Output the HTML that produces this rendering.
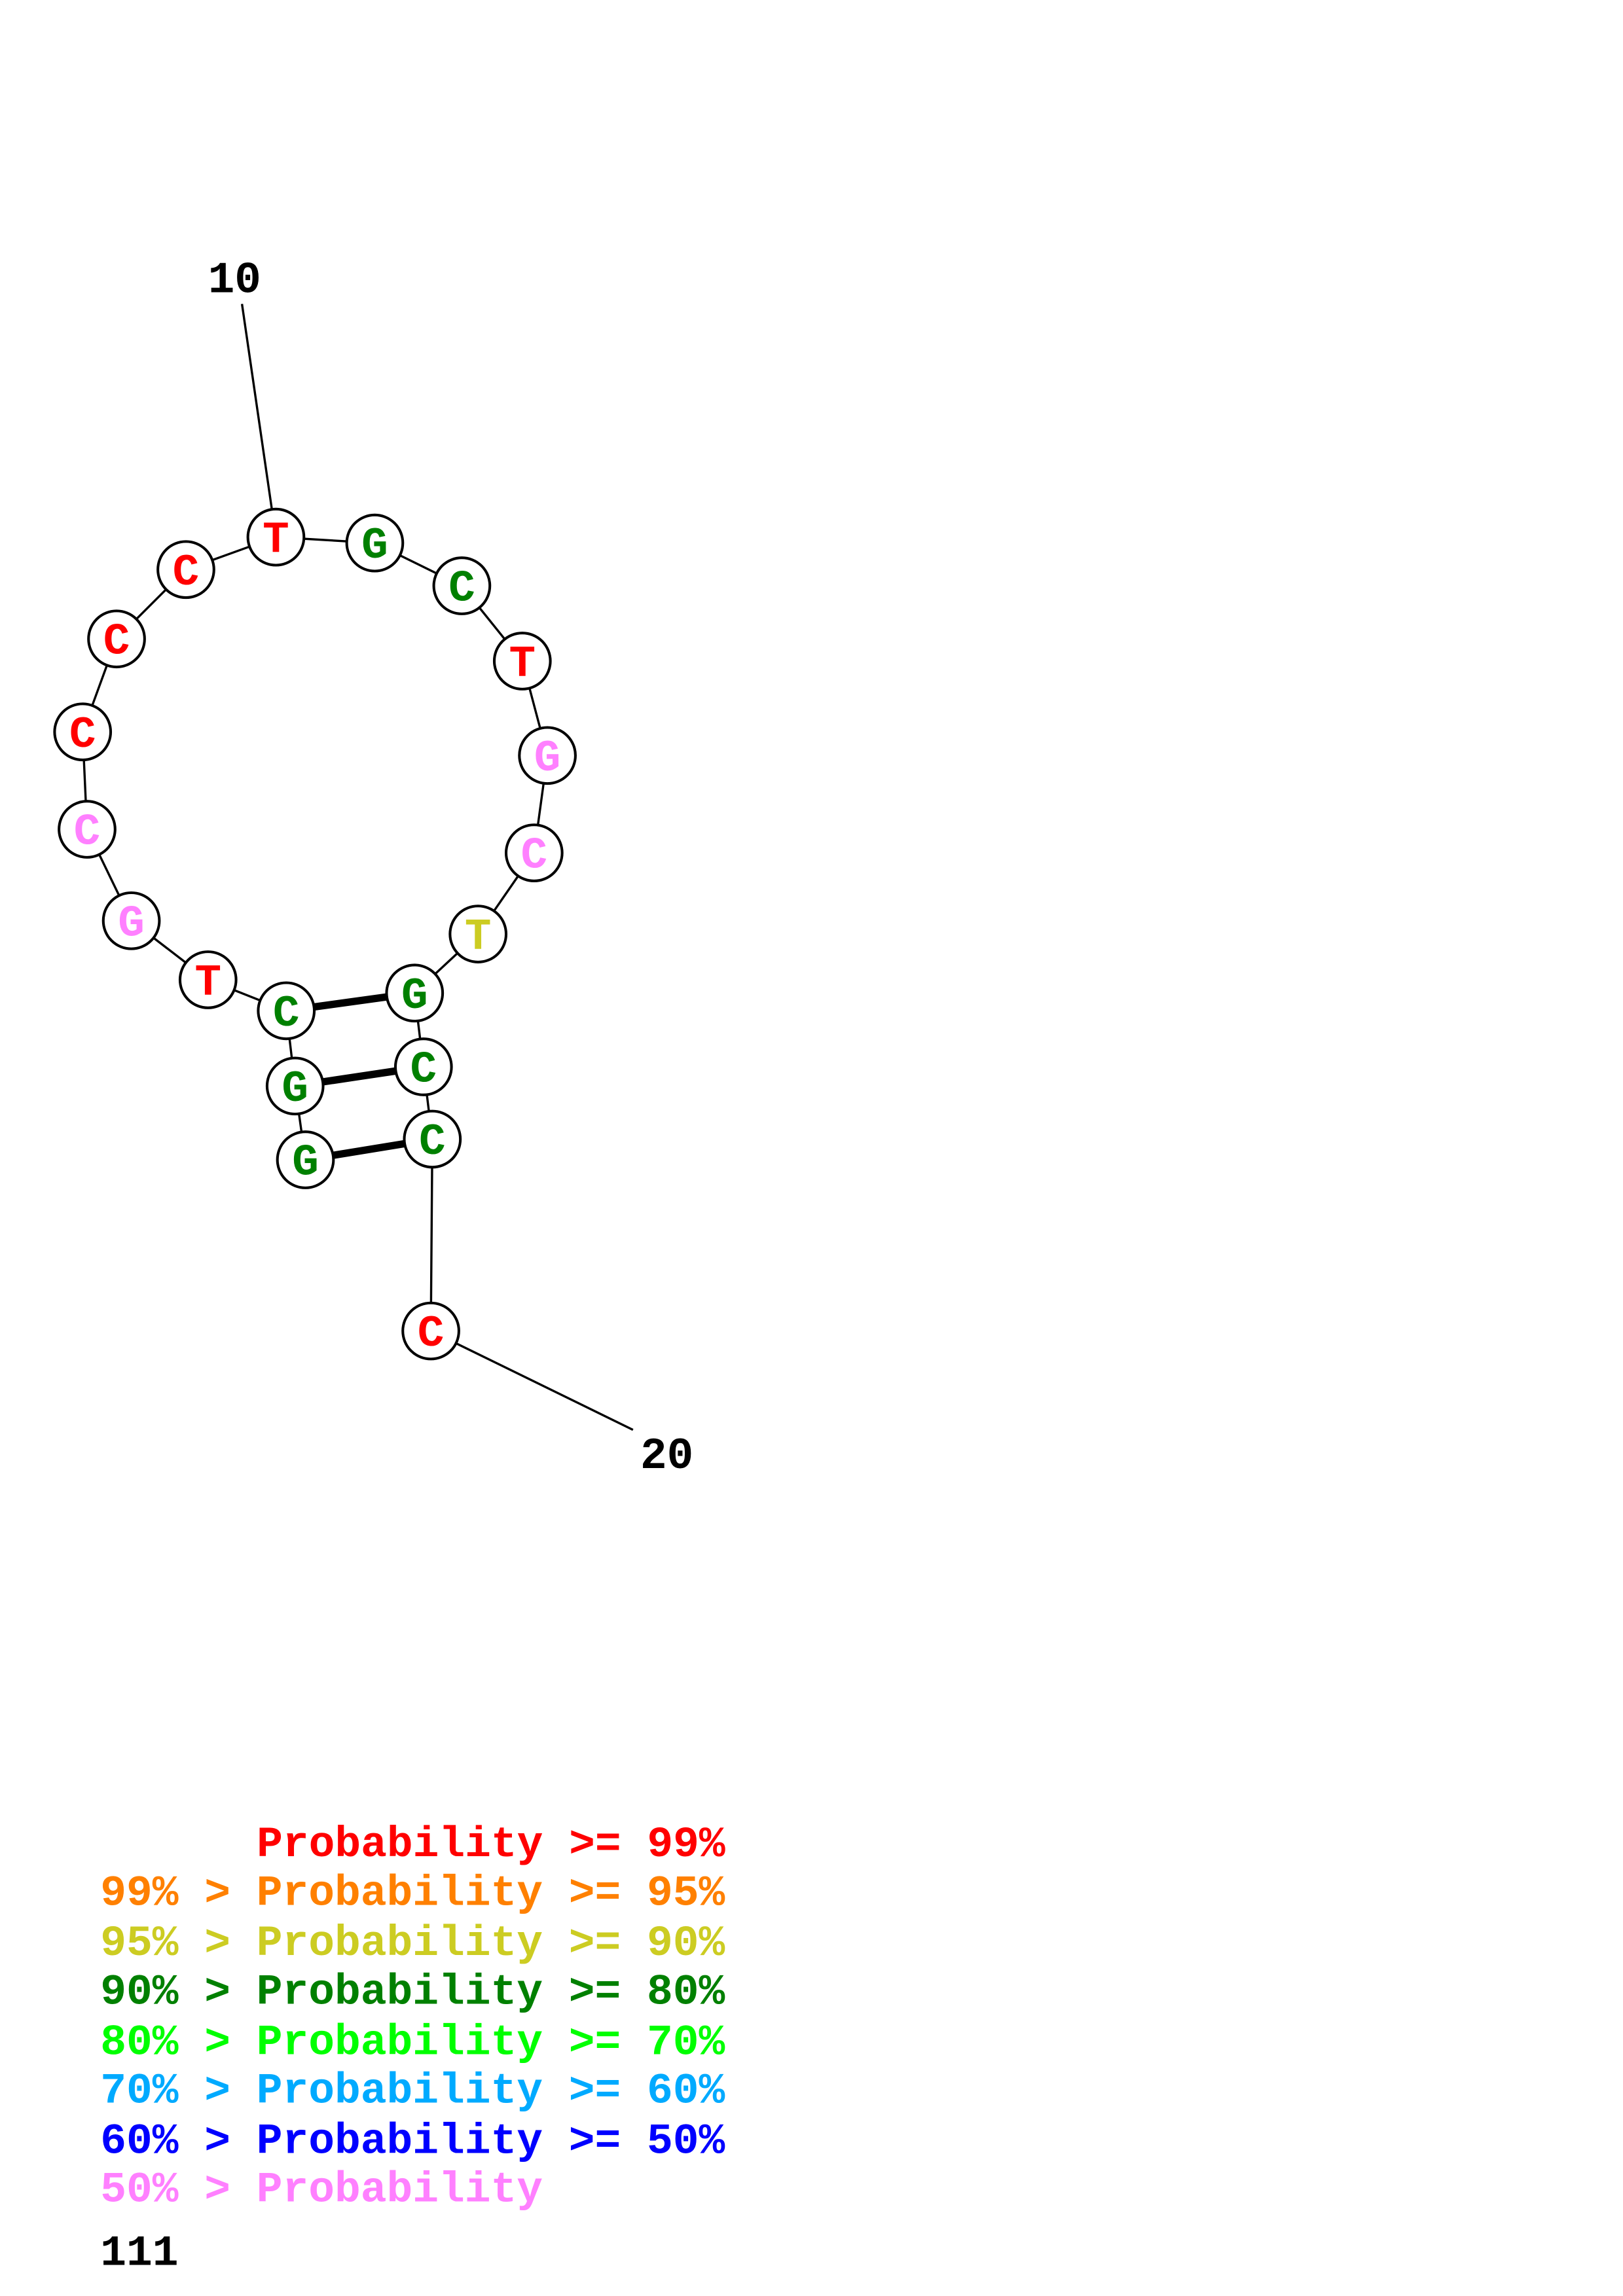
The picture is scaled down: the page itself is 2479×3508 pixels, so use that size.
<!DOCTYPE html>
<html><head><meta charset="utf-8"><style>html,body{margin:0;padding:0;background:#fff}svg{display:block}</style></head>
<body>
<svg width="2479" height="3508" viewBox="0 0 1100 1556" preserveAspectRatio="none" xmlns="http://www.w3.org/2000/svg">
<g transform="translate(-1,-4)">
<g stroke="#000" stroke-width="1.5" fill="none">
<line x1="165" y1="210" x2="188" y2="368"/>
<line x1="293" y1="906" x2="430" y2="973"/>
<polyline points="208,790 201,740 195,689 142,668 90,628 60,566 57,500 80,437 127,390 188,368 255,372 314,401 355,452 372,516 363,582 325,637 282,677 288,727 294,776 293,906"/>
</g>
<g stroke="#000" stroke-width="5">
<line x1="195" y1="689" x2="282" y2="677"/>
<line x1="201" y1="740" x2="288" y2="727"/>
<line x1="208" y1="790" x2="294" y2="776"/>
</g>
<g stroke="#000" stroke-width="1.8" fill="#fff">
<circle cx="188" cy="368" r="19"/><circle cx="255" cy="372" r="19"/><circle cx="314" cy="401" r="19"/><circle cx="355" cy="452" r="19"/><circle cx="372" cy="516" r="19"/><circle cx="363" cy="582" r="19"/><circle cx="325" cy="637" r="19"/><circle cx="282" cy="677" r="19"/><circle cx="288" cy="727" r="19"/><circle cx="294" cy="776" r="19"/><circle cx="293" cy="906" r="19"/>
<circle cx="127" cy="390" r="19"/><circle cx="80" cy="437" r="19"/><circle cx="57" cy="500" r="19"/><circle cx="60" cy="566" r="19"/><circle cx="90" cy="628" r="19"/><circle cx="142" cy="668" r="19"/><circle cx="195" cy="689" r="19"/><circle cx="201" cy="740" r="19"/><circle cx="208" cy="790" r="19"/>
</g>
<g font-family="Liberation Mono, monospace" font-weight="bold" font-size="30" text-anchor="middle">
<text x="188" y="378" fill="#f00">T</text><text x="255" y="382" fill="#008000">G</text><text x="314" y="411" fill="#008000">C</text><text x="355" y="462" fill="#f00">T</text><text x="372" y="526" fill="#ff80ff">G</text><text x="363" y="592" fill="#ff80ff">C</text><text x="325" y="647" fill="#cccc22">T</text><text x="282" y="687" fill="#008000">G</text><text x="288" y="737" fill="#008000">C</text><text x="294" y="786" fill="#008000">C</text><text x="293" y="916" fill="#f00">C</text>
<text x="127" y="400" fill="#f00">C</text><text x="80" y="447" fill="#f00">C</text><text x="57" y="510" fill="#f00">C</text><text x="60" y="576" fill="#ff80ff">C</text><text x="90" y="638" fill="#ff80ff">G</text><text x="142" y="678" fill="#f00">T</text><text x="195" y="699" fill="#008000">C</text><text x="201" y="750" fill="#008000">G</text><text x="208" y="800" fill="#008000">G</text>
<text x="160" y="202" fill="#000" font-size="30">10</text>
<text x="453" y="999" fill="#000" font-size="30">20</text>
</g>
</g>
<g font-family="Liberation Mono, monospace" font-weight="bold" font-size="29.4">
<text x="174" y="1258" fill="#f00">Probability &gt;= 99%</text>
<text x="68" y="1291" fill="#ff8000">99% &gt; Probability &gt;= 95%</text>
<text x="68" y="1325" fill="#cccc22">95% &gt; Probability &gt;= 90%</text>
<text x="68" y="1358" fill="#008000">90% &gt; Probability &gt;= 80%</text>
<text x="68" y="1392" fill="#00ff00">80% &gt; Probability &gt;= 70%</text>
<text x="68" y="1425" fill="#00aaff">70% &gt; Probability &gt;= 60%</text>
<text x="68" y="1459" fill="#0000ff">60% &gt; Probability &gt;= 50%</text>
<text x="68" y="1492" fill="#ff80ff">50% &gt; Probability</text>
<text x="68" y="1535" fill="#000">111</text>
</g>
</svg>
</body></html>
